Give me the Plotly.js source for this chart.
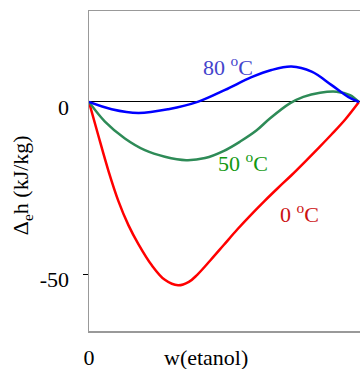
<!DOCTYPE html>
<html>
<head>
<meta charset="utf-8">
<script src="https://cdn.plot.ly/plotly-3.0.1.min.js"></script>
<style>html,body{margin:0;padding:0;background:#fff;}#chart{width:360px;height:369px;}</style>
</head>
<body>
<div id="chart"></div>
<script>
// Data
const w0 = [0, 0.034, 0.072, 0.109, 0.146, 0.183, 0.232, 0.281, 0.33, 0.37, 0.40, 0.45, 0.50, 0.55, 0.60, 0.65, 0.70, 0.75, 0.80, 0.85, 0.90, 0.95, 1.0];
const h0 = [0, -9.6, -20.0, -28.8, -35.8, -41.3, -47.4, -51.7, -53.3, -52.3, -50.3, -46.0, -41.5, -37.0, -32.8, -28.8, -25.0, -21.3, -17.4, -13.4, -9.3, -5.0, 0];

const w50 = [0, 0.059, 0.133, 0.207, 0.281, 0.36, 0.43, 0.50, 0.56, 0.62, 0.67, 0.744, 0.794, 0.856, 0.917, 0.967, 1.0];
const h50 = [0, -5.7, -10.6, -14.0, -15.9, -16.9, -16.3, -14.2, -11.5, -8.3, -4.8, -0.4, 1.5, 2.7, 3.0, 2.0, 0];

const w80 = [0, 0.084, 0.183, 0.294, 0.405, 0.504, 0.602, 0.676, 0.75, 0.825, 0.899, 0.96, 1.0];
const h80 = [0, -2.1, -3.2, -2.1, 0.1, 3.5, 7.2, 9.3, 10.3, 8.8, 4.9, 1.5, 0];

const seriesNames = ['0 <sup>o</sup>C', '50 <sup>o</sup>C', '80 <sup>o</sup>C'];
const labelPos = [[0.778, -32.3], [0.572, -17.4], [0.515, 10.5]];
const yTickVals = [0, -50];
const yTickText = ['0', '-50'];
const xTickVals = [0];
const xTickText = ['0'];

const lineColors = ['#ff0000', '#2e8b57', '#0000ff'];
const labelColors = ['#cc1111', '#119911', '#4444cc'];
const serif = 'Liberation Serif';

const traces = [
  {x: w0, y: h0, mode: 'lines', line: {color: lineColors[0], width: 2.5, shape: 'spline', smoothing: 1}, hoverinfo: 'skip'},
  {x: w50, y: h50, mode: 'lines', line: {color: lineColors[1], width: 2.5, shape: 'spline', smoothing: 1}, hoverinfo: 'skip'},
  {x: w80, y: h80, mode: 'lines', line: {color: lineColors[2], width: 2.5, shape: 'spline', smoothing: 1}, hoverinfo: 'skip'}
];

const annotations = seriesNames.map((t, i) => ({
  x: labelPos[i][0], y: labelPos[i][1], xref: 'x', yref: 'y', text: t, showarrow: false,
  font: {family: serif, size: 22, color: labelColors[i]}, xanchor: 'center', yanchor: 'middle'
}));
annotations.push({x: 0.432, y: -0.084, xref: 'paper', yref: 'paper', text: 'w(etanol)', showarrow: false,
  font: {family: serif, size: 22, color: '#000'}, xanchor: 'center', yanchor: 'middle'});
annotations.push({x: -0.247, y: 0.456, xref: 'paper', yref: 'paper', text: 'Δ<sub>e</sub>h (kJ/kg)', showarrow: false,
  textangle: -90, font: {family: serif, size: 22, color: '#000'}, xanchor: 'center', yanchor: 'middle'});

const layout = {
  width: 360, height: 369,
  margin: {l: 89, r: 0, t: 11, b: 38},
  paper_bgcolor: '#fff', plot_bgcolor: '#fff',
  showlegend: false,
  font: {family: serif, size: 22, color: '#000'},
  xaxis: {
    range: [0, 1.004], showgrid: false, zeroline: false,
    showline: true, linecolor: '#999', linewidth: 1.5, mirror: true,
    tickmode: 'array', tickvals: xTickVals, ticktext: xTickText, ticks: '',
    ticklabelstandoff: 6, tickfont: {family: serif, size: 22, color: '#000'}
  },
  yaxis: {
    range: [-66.57, 26.45], showgrid: false,
    zeroline: true, zerolinecolor: '#000', zerolinewidth: 1,
    showline: true, linecolor: '#999', linewidth: 1.5, mirror: false,
    tickmode: 'array', tickvals: yTickVals, ticktext: yTickText, ticks: '',
    minor: {tickmode: 'array', tickvals: [-50], ticks: 'outside', ticklen: 5, tickcolor: '#000', tickwidth: 1},
    ticklabelstandoff: 14, ticklabelshift: 5,
    tickfont: {family: serif, size: 22, color: '#000'}
  },
  annotations: annotations
};

Plotly.newPlot('chart', traces, layout, {displayModeBar: false, staticPlot: true});
</script>
</body>
</html>
